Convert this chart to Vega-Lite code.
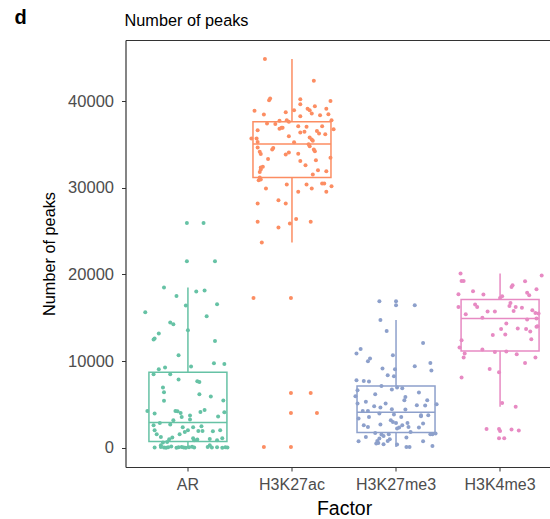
{
  "$schema": "https://vega.github.io/schema/vega-lite/v6.json",
  "autosize": {"type": "none"},
  "padding": {"left": 125.5, "top": 40, "right": 0, "bottom": 52},
  "width": 424.5,
  "height": 427,
  "title": {"text": "d", "anchor": "start", "frame": "group", "dx": -111, "dy": 36, "baseline": "alphabetic", "fontSize": 20, "fontWeight": "bold", "color": "#000000"},
  "config": {
    "font": "Liberation Sans",
    "view": {"stroke": null},
    "axis": {"grid": false}
  },
  "datasets": {
    "summary": [
      {"Factor": "AR", "lower": 40, "q1": 750, "median": 2940, "q3": 8730, "upper": 18500},
      {"Factor": "H3K27ac", "lower": 23690, "q1": 31190, "median": 35060, "q3": 37600, "upper": 44850},
      {"Factor": "H3K27me3", "lower": 120, "q1": 1780, "median": 4120, "q3": 7150, "upper": 14750},
      {"Factor": "H3K4me3", "lower": 4750, "q1": 11190, "median": 14930, "q3": 17120, "upper": 20120}
    ],
    "peaks": [
      {"Factor": "AR", "jitter": -0.01, "peaks": 25950},
      {"Factor": "AR", "jitter": 0.15, "peaks": 25950},
      {"Factor": "AR", "jitter": -0.01, "peaks": 21530},
      {"Factor": "AR", "jitter": 0.26, "peaks": 21530},
      {"Factor": "AR", "jitter": -0.23, "peaks": 18500},
      {"Factor": "AR", "jitter": 0.08, "peaks": 18040},
      {"Factor": "AR", "jitter": 0.16, "peaks": 18150},
      {"Factor": "AR", "jitter": -0.11, "peaks": 17530},
      {"Factor": "AR", "jitter": -0.02, "peaks": 16420},
      {"Factor": "AR", "jitter": 0.28, "peaks": 16570},
      {"Factor": "AR", "jitter": -0.41, "peaks": 15650},
      {"Factor": "AR", "jitter": 0.18, "peaks": 15190},
      {"Factor": "AR", "jitter": -0.17, "peaks": 14460},
      {"Factor": "AR", "jitter": -0.14, "peaks": 14270},
      {"Factor": "AR", "jitter": 0.0, "peaks": 13580},
      {"Factor": "AR", "jitter": -0.28, "peaks": 13190},
      {"Factor": "AR", "jitter": -0.32, "peaks": 12620},
      {"Factor": "AR", "jitter": -0.33, "peaks": 12500},
      {"Factor": "AR", "jitter": 0.26, "peaks": 12340},
      {"Factor": "AR", "jitter": -0.09, "peaks": 10690},
      {"Factor": "AR", "jitter": 0.25, "peaks": 9770},
      {"Factor": "AR", "jitter": 0.35, "peaks": 9690},
      {"Factor": "AR", "jitter": 0.03, "peaks": 9390},
      {"Factor": "AR", "jitter": -0.22, "peaks": 9270},
      {"Factor": "AR", "jitter": -0.28, "peaks": 9080},
      {"Factor": "AR", "jitter": -0.33, "peaks": 8500},
      {"Factor": "AR", "jitter": -0.17, "peaks": 8500},
      {"Factor": "AR", "jitter": -0.09, "peaks": 7890},
      {"Factor": "AR", "jitter": 0.09, "peaks": 7690},
      {"Factor": "AR", "jitter": 0.11, "peaks": 7610},
      {"Factor": "AR", "jitter": -0.24, "peaks": 6970},
      {"Factor": "AR", "jitter": -0.23, "peaks": 6420},
      {"Factor": "AR", "jitter": 0.11, "peaks": 6190},
      {"Factor": "AR", "jitter": 0.22, "peaks": 5940},
      {"Factor": "AR", "jitter": -0.23, "peaks": 5440},
      {"Factor": "AR", "jitter": 0.34, "peaks": 5470},
      {"Factor": "AR", "jitter": -0.39, "peaks": 4270},
      {"Factor": "AR", "jitter": -0.32, "peaks": 3970},
      {"Factor": "AR", "jitter": -0.12, "peaks": 4270},
      {"Factor": "AR", "jitter": -0.1, "peaks": 4220},
      {"Factor": "AR", "jitter": -0.07, "peaks": 4040},
      {"Factor": "AR", "jitter": -0.06, "peaks": 3580},
      {"Factor": "AR", "jitter": 0.02, "peaks": 3740},
      {"Factor": "AR", "jitter": 0.02, "peaks": 3280},
      {"Factor": "AR", "jitter": 0.12, "peaks": 4150},
      {"Factor": "AR", "jitter": 0.16, "peaks": 4380},
      {"Factor": "AR", "jitter": 0.35, "peaks": 4120},
      {"Factor": "AR", "jitter": 0.29, "peaks": 3620},
      {"Factor": "AR", "jitter": -0.14, "peaks": 3190},
      {"Factor": "AR", "jitter": -0.33, "peaks": 2620},
      {"Factor": "AR", "jitter": -0.27, "peaks": 2880},
      {"Factor": "AR", "jitter": -0.17, "peaks": 2700},
      {"Factor": "AR", "jitter": -0.05, "peaks": 2390},
      {"Factor": "AR", "jitter": 0.05, "peaks": 2390},
      {"Factor": "AR", "jitter": 0.13, "peaks": 2500},
      {"Factor": "AR", "jitter": -0.32, "peaks": 2040},
      {"Factor": "AR", "jitter": -0.03, "peaks": 1850},
      {"Factor": "AR", "jitter": 0.0, "peaks": 2040},
      {"Factor": "AR", "jitter": 0.1, "peaks": 1960},
      {"Factor": "AR", "jitter": 0.14, "peaks": 1960},
      {"Factor": "AR", "jitter": 0.24, "peaks": 1930},
      {"Factor": "AR", "jitter": 0.31, "peaks": 2040},
      {"Factor": "AR", "jitter": -0.3, "peaks": 1580},
      {"Factor": "AR", "jitter": -0.26, "peaks": 1270},
      {"Factor": "AR", "jitter": -0.18, "peaks": 1000},
      {"Factor": "AR", "jitter": -0.15, "peaks": 1200},
      {"Factor": "AR", "jitter": -0.08, "peaks": 1580},
      {"Factor": "AR", "jitter": 0.05, "peaks": 1120},
      {"Factor": "AR", "jitter": 0.06, "peaks": 890},
      {"Factor": "AR", "jitter": 0.09, "peaks": 970},
      {"Factor": "AR", "jitter": 0.21, "peaks": 1040},
      {"Factor": "AR", "jitter": 0.28, "peaks": 890},
      {"Factor": "AR", "jitter": 0.33, "peaks": 1120},
      {"Factor": "AR", "jitter": -0.24, "peaks": 620},
      {"Factor": "AR", "jitter": -0.2, "peaks": 690},
      {"Factor": "AR", "jitter": -0.26, "peaks": 310},
      {"Factor": "AR", "jitter": 0.21, "peaks": 310},
      {"Factor": "AR", "jitter": -0.32, "peaks": 40},
      {"Factor": "AR", "jitter": -0.26, "peaks": 120},
      {"Factor": "AR", "jitter": -0.23, "peaks": 60},
      {"Factor": "AR", "jitter": -0.21, "peaks": 30},
      {"Factor": "AR", "jitter": -0.19, "peaks": 90},
      {"Factor": "AR", "jitter": -0.16, "peaks": 150},
      {"Factor": "AR", "jitter": -0.11, "peaks": 20},
      {"Factor": "AR", "jitter": -0.09, "peaks": 70},
      {"Factor": "AR", "jitter": -0.06, "peaks": 110},
      {"Factor": "AR", "jitter": -0.04, "peaks": 50},
      {"Factor": "AR", "jitter": -0.02, "peaks": 30},
      {"Factor": "AR", "jitter": 0.01, "peaks": 80},
      {"Factor": "AR", "jitter": 0.04, "peaks": 140},
      {"Factor": "AR", "jitter": 0.06, "peaks": 60},
      {"Factor": "AR", "jitter": 0.19, "peaks": 100},
      {"Factor": "AR", "jitter": 0.23, "peaks": 40},
      {"Factor": "AR", "jitter": 0.28, "peaks": 70},
      {"Factor": "AR", "jitter": 0.33, "peaks": 20},
      {"Factor": "AR", "jitter": 0.36, "peaks": 90},
      {"Factor": "AR", "jitter": 0.38, "peaks": 50},
      {"Factor": "H3K27ac", "jitter": -0.26, "peaks": 44850},
      {"Factor": "H3K27ac", "jitter": 0.21, "peaks": 42330},
      {"Factor": "H3K27ac", "jitter": -0.22, "peaks": 40100},
      {"Factor": "H3K27ac", "jitter": -0.21, "peaks": 40300},
      {"Factor": "H3K27ac", "jitter": 0.08, "peaks": 40220},
      {"Factor": "H3K27ac", "jitter": 0.08, "peaks": 39640},
      {"Factor": "H3K27ac", "jitter": -0.36, "peaks": 38870},
      {"Factor": "H3K27ac", "jitter": -0.27, "peaks": 38450},
      {"Factor": "H3K27ac", "jitter": -0.06, "peaks": 38720},
      {"Factor": "H3K27ac", "jitter": 0.02, "peaks": 38950},
      {"Factor": "H3K27ac", "jitter": 0.15, "peaks": 39100},
      {"Factor": "H3K27ac", "jitter": 0.17, "peaks": 38950},
      {"Factor": "H3K27ac", "jitter": 0.22, "peaks": 39410},
      {"Factor": "H3K27ac", "jitter": 0.37, "peaks": 40020},
      {"Factor": "H3K27ac", "jitter": 0.33, "peaks": 39100},
      {"Factor": "H3K27ac", "jitter": 0.27, "peaks": 38370},
      {"Factor": "H3K27ac", "jitter": 0.35, "peaks": 38490},
      {"Factor": "H3K27ac", "jitter": 0.08, "peaks": 38260},
      {"Factor": "H3K27ac", "jitter": 0.19, "peaks": 38570},
      {"Factor": "H3K27ac", "jitter": 0.38, "peaks": 37800},
      {"Factor": "H3K27ac", "jitter": -0.12, "peaks": 37720},
      {"Factor": "H3K27ac", "jitter": -0.05, "peaks": 37800},
      {"Factor": "H3K27ac", "jitter": -0.03, "peaks": 37600},
      {"Factor": "H3K27ac", "jitter": -0.24, "peaks": 37420},
      {"Factor": "H3K27ac", "jitter": -0.16, "peaks": 37340},
      {"Factor": "H3K27ac", "jitter": -0.33, "peaks": 36640},
      {"Factor": "H3K27ac", "jitter": -0.12, "peaks": 36800},
      {"Factor": "H3K27ac", "jitter": -0.1, "peaks": 36910},
      {"Factor": "H3K27ac", "jitter": -0.09, "peaks": 36910},
      {"Factor": "H3K27ac", "jitter": 0.06, "peaks": 37100},
      {"Factor": "H3K27ac", "jitter": 0.14, "peaks": 37030},
      {"Factor": "H3K27ac", "jitter": 0.24, "peaks": 36560},
      {"Factor": "H3K27ac", "jitter": 0.26, "peaks": 36260},
      {"Factor": "H3K27ac", "jitter": 0.29, "peaks": 37100},
      {"Factor": "H3K27ac", "jitter": 0.32, "peaks": 36180},
      {"Factor": "H3K27ac", "jitter": 0.4, "peaks": 36760},
      {"Factor": "H3K27ac", "jitter": 0.08, "peaks": 36380},
      {"Factor": "H3K27ac", "jitter": 0.12, "peaks": 36450},
      {"Factor": "H3K27ac", "jitter": -0.39, "peaks": 35690},
      {"Factor": "H3K27ac", "jitter": -0.34, "peaks": 35690},
      {"Factor": "H3K27ac", "jitter": -0.33, "peaks": 35290},
      {"Factor": "H3K27ac", "jitter": -0.03, "peaks": 35950},
      {"Factor": "H3K27ac", "jitter": 0.17, "peaks": 35800},
      {"Factor": "H3K27ac", "jitter": 0.19, "peaks": 35570},
      {"Factor": "H3K27ac", "jitter": 0.2, "peaks": 35410},
      {"Factor": "H3K27ac", "jitter": 0.02, "peaks": 35260},
      {"Factor": "H3K27ac", "jitter": 0.16, "peaks": 35030},
      {"Factor": "H3K27ac", "jitter": 0.17, "peaks": 34800},
      {"Factor": "H3K27ac", "jitter": -0.33, "peaks": 34650},
      {"Factor": "H3K27ac", "jitter": -0.18, "peaks": 34600},
      {"Factor": "H3K27ac", "jitter": -0.19, "peaks": 34420},
      {"Factor": "H3K27ac", "jitter": 0.21, "peaks": 34420},
      {"Factor": "H3K27ac", "jitter": 0.22, "peaks": 34220},
      {"Factor": "H3K27ac", "jitter": -0.31, "peaks": 34140},
      {"Factor": "H3K27ac", "jitter": -0.3, "peaks": 33880},
      {"Factor": "H3K27ac", "jitter": -0.06, "peaks": 33840},
      {"Factor": "H3K27ac", "jitter": -0.03, "peaks": 34070},
      {"Factor": "H3K27ac", "jitter": 0.06, "peaks": 33910},
      {"Factor": "H3K27ac", "jitter": -0.23, "peaks": 33330},
      {"Factor": "H3K27ac", "jitter": 0.37, "peaks": 33450},
      {"Factor": "H3K27ac", "jitter": 0.08, "peaks": 33100},
      {"Factor": "H3K27ac", "jitter": 0.23, "peaks": 33180},
      {"Factor": "H3K27ac", "jitter": 0.13, "peaks": 32610},
      {"Factor": "H3K27ac", "jitter": -0.3, "peaks": 32340},
      {"Factor": "H3K27ac", "jitter": -0.28, "peaks": 32410},
      {"Factor": "H3K27ac", "jitter": -0.31, "peaks": 31830},
      {"Factor": "H3K27ac", "jitter": -0.3, "peaks": 32110},
      {"Factor": "H3K27ac", "jitter": 0.25, "peaks": 32030},
      {"Factor": "H3K27ac", "jitter": 0.33, "peaks": 31910},
      {"Factor": "H3K27ac", "jitter": 0.2, "peaks": 31530},
      {"Factor": "H3K27ac", "jitter": -0.31, "peaks": 31190},
      {"Factor": "H3K27ac", "jitter": -0.32, "peaks": 30880},
      {"Factor": "H3K27ac", "jitter": -0.3, "peaks": 30960},
      {"Factor": "H3K27ac", "jitter": -0.25, "peaks": 29920},
      {"Factor": "H3K27ac", "jitter": -0.05, "peaks": 30380},
      {"Factor": "H3K27ac", "jitter": 0.14, "peaks": 30380},
      {"Factor": "H3K27ac", "jitter": 0.19, "peaks": 29920},
      {"Factor": "H3K27ac", "jitter": 0.29, "peaks": 30500},
      {"Factor": "H3K27ac", "jitter": 0.31, "peaks": 30500},
      {"Factor": "H3K27ac", "jitter": 0.38, "peaks": 30180},
      {"Factor": "H3K27ac", "jitter": 0.06, "peaks": 29530},
      {"Factor": "H3K27ac", "jitter": 0.33, "peaks": 29530},
      {"Factor": "H3K27ac", "jitter": -0.13, "peaks": 28570},
      {"Factor": "H3K27ac", "jitter": -0.06, "peaks": 28190},
      {"Factor": "H3K27ac", "jitter": -0.33, "peaks": 28190},
      {"Factor": "H3K27ac", "jitter": 0.04, "peaks": 26410},
      {"Factor": "H3K27ac", "jitter": -0.33, "peaks": 26070},
      {"Factor": "H3K27ac", "jitter": -0.13, "peaks": 25420},
      {"Factor": "H3K27ac", "jitter": -0.02, "peaks": 25880},
      {"Factor": "H3K27ac", "jitter": 0.18, "peaks": 26070},
      {"Factor": "H3K27ac", "jitter": -0.29, "peaks": 23690},
      {"Factor": "H3K27ac", "jitter": -0.37, "peaks": 17300},
      {"Factor": "H3K27ac", "jitter": -0.01, "peaks": 17300},
      {"Factor": "H3K27ac", "jitter": -0.01, "peaks": 6340},
      {"Factor": "H3K27ac", "jitter": 0.18, "peaks": 6340},
      {"Factor": "H3K27ac", "jitter": -0.01, "peaks": 4040},
      {"Factor": "H3K27ac", "jitter": 0.24, "peaks": 4040},
      {"Factor": "H3K27ac", "jitter": -0.27, "peaks": 120},
      {"Factor": "H3K27ac", "jitter": -0.01, "peaks": 120},
      {"Factor": "H3K27me3", "jitter": -0.16, "peaks": 16920},
      {"Factor": "H3K27me3", "jitter": 0.0, "peaks": 16920},
      {"Factor": "H3K27me3", "jitter": 0.0, "peaks": 16460},
      {"Factor": "H3K27me3", "jitter": 0.18, "peaks": 16460},
      {"Factor": "H3K27me3", "jitter": -0.15, "peaks": 14750},
      {"Factor": "H3K27me3", "jitter": -0.09, "peaks": 13490},
      {"Factor": "H3K27me3", "jitter": 0.26, "peaks": 12110},
      {"Factor": "H3K27me3", "jitter": -0.34, "peaks": 11420},
      {"Factor": "H3K27me3", "jitter": -0.38, "peaks": 10890},
      {"Factor": "H3K27me3", "jitter": -0.03, "peaks": 10690},
      {"Factor": "H3K27me3", "jitter": -0.25, "peaks": 10310},
      {"Factor": "H3K27me3", "jitter": -0.27, "peaks": 10000},
      {"Factor": "H3K27me3", "jitter": 0.33, "peaks": 9800},
      {"Factor": "H3K27me3", "jitter": 0.18, "peaks": 9420},
      {"Factor": "H3K27me3", "jitter": -0.13, "peaks": 9160},
      {"Factor": "H3K27me3", "jitter": -0.01, "peaks": 9080},
      {"Factor": "H3K27me3", "jitter": 0.34, "peaks": 8930},
      {"Factor": "H3K27me3", "jitter": -0.08, "peaks": 8390},
      {"Factor": "H3K27me3", "jitter": -0.02, "peaks": 8270},
      {"Factor": "H3K27me3", "jitter": -0.38, "peaks": 7810},
      {"Factor": "H3K27me3", "jitter": -0.31, "peaks": 7730},
      {"Factor": "H3K27me3", "jitter": -0.26, "peaks": 7660},
      {"Factor": "H3K27me3", "jitter": -0.14, "peaks": 7150},
      {"Factor": "H3K27me3", "jitter": -0.04, "peaks": 6740},
      {"Factor": "H3K27me3", "jitter": 0.01, "peaks": 6970},
      {"Factor": "H3K27me3", "jitter": 0.06, "peaks": 6890},
      {"Factor": "H3K27me3", "jitter": -0.37, "peaks": 6660},
      {"Factor": "H3K27me3", "jitter": -0.2, "peaks": 6190},
      {"Factor": "H3K27me3", "jitter": 0.22, "peaks": 6390},
      {"Factor": "H3K27me3", "jitter": -0.39, "peaks": 5960},
      {"Factor": "H3K27me3", "jitter": 0.09, "peaks": 5880},
      {"Factor": "H3K27me3", "jitter": 0.08, "peaks": 5500},
      {"Factor": "H3K27me3", "jitter": 0.3, "peaks": 5500},
      {"Factor": "H3K27me3", "jitter": -0.29, "peaks": 5310},
      {"Factor": "H3K27me3", "jitter": -0.1, "peaks": 5120},
      {"Factor": "H3K27me3", "jitter": 0.2, "peaks": 4930},
      {"Factor": "H3K27me3", "jitter": -0.37, "peaks": 5120},
      {"Factor": "H3K27me3", "jitter": -0.21, "peaks": 4810},
      {"Factor": "H3K27me3", "jitter": -0.15, "peaks": 4660},
      {"Factor": "H3K27me3", "jitter": -0.04, "peaks": 4460},
      {"Factor": "H3K27me3", "jitter": 0.09, "peaks": 4430},
      {"Factor": "H3K27me3", "jitter": 0.28, "peaks": 4890},
      {"Factor": "H3K27me3", "jitter": 0.39, "peaks": 5040},
      {"Factor": "H3K27me3", "jitter": -0.32, "peaks": 4270},
      {"Factor": "H3K27me3", "jitter": -0.27, "peaks": 4270},
      {"Factor": "H3K27me3", "jitter": -0.16, "peaks": 3970},
      {"Factor": "H3K27me3", "jitter": -0.02, "peaks": 3850},
      {"Factor": "H3K27me3", "jitter": 0.05, "peaks": 3580},
      {"Factor": "H3K27me3", "jitter": 0.24, "peaks": 3770},
      {"Factor": "H3K27me3", "jitter": 0.24, "peaks": 3660},
      {"Factor": "H3K27me3", "jitter": 0.31, "peaks": 3770},
      {"Factor": "H3K27me3", "jitter": -0.36, "peaks": 3390},
      {"Factor": "H3K27me3", "jitter": -0.26, "peaks": 3580},
      {"Factor": "H3K27me3", "jitter": -0.05, "peaks": 3190},
      {"Factor": "H3K27me3", "jitter": -0.03, "peaks": 3000},
      {"Factor": "H3K27me3", "jitter": 0.0, "peaks": 2880},
      {"Factor": "H3K27me3", "jitter": 0.06, "peaks": 2620},
      {"Factor": "H3K27me3", "jitter": 0.11, "peaks": 2880},
      {"Factor": "H3K27me3", "jitter": 0.26, "peaks": 2810},
      {"Factor": "H3K27me3", "jitter": -0.15, "peaks": 2700},
      {"Factor": "H3K27me3", "jitter": -0.31, "peaks": 2620},
      {"Factor": "H3K27me3", "jitter": -0.27, "peaks": 2420},
      {"Factor": "H3K27me3", "jitter": 0.12, "peaks": 2420},
      {"Factor": "H3K27me3", "jitter": 0.22, "peaks": 2350},
      {"Factor": "H3K27me3", "jitter": 0.01, "peaks": 2240},
      {"Factor": "H3K27me3", "jitter": 0.03, "peaks": 2350},
      {"Factor": "H3K27me3", "jitter": -0.2, "peaks": 1730},
      {"Factor": "H3K27me3", "jitter": 0.14, "peaks": 1850},
      {"Factor": "H3K27me3", "jitter": 0.33, "peaks": 1580},
      {"Factor": "H3K27me3", "jitter": 0.35, "peaks": 1580},
      {"Factor": "H3K27me3", "jitter": 0.38, "peaks": 1660},
      {"Factor": "H3K27me3", "jitter": -0.29, "peaks": 1270},
      {"Factor": "H3K27me3", "jitter": -0.14, "peaks": 1550},
      {"Factor": "H3K27me3", "jitter": -0.12, "peaks": 1380},
      {"Factor": "H3K27me3", "jitter": -0.07, "peaks": 1580},
      {"Factor": "H3K27me3", "jitter": 0.1, "peaks": 1200},
      {"Factor": "H3K27me3", "jitter": -0.16, "peaks": 1080},
      {"Factor": "H3K27me3", "jitter": -0.36, "peaks": 770},
      {"Factor": "H3K27me3", "jitter": -0.18, "peaks": 810},
      {"Factor": "H3K27me3", "jitter": -0.17, "peaks": 580},
      {"Factor": "H3K27me3", "jitter": -0.19, "peaks": 510},
      {"Factor": "H3K27me3", "jitter": -0.12, "peaks": 430},
      {"Factor": "H3K27me3", "jitter": -0.08, "peaks": 810},
      {"Factor": "H3K27me3", "jitter": -0.06, "peaks": 1000},
      {"Factor": "H3K27me3", "jitter": 0.01, "peaks": 390},
      {"Factor": "H3K27me3", "jitter": 0.26, "peaks": 770},
      {"Factor": "H3K27me3", "jitter": 0.1, "peaks": 120},
      {"Factor": "H3K27me3", "jitter": 0.13, "peaks": 120},
      {"Factor": "H3K27me3", "jitter": 0.35, "peaks": 230},
      {"Factor": "H3K4me3", "jitter": -0.38, "peaks": 20120},
      {"Factor": "H3K4me3", "jitter": 0.4, "peaks": 19880},
      {"Factor": "H3K4me3", "jitter": -0.37, "peaks": 19260},
      {"Factor": "H3K4me3", "jitter": -0.35, "peaks": 19260},
      {"Factor": "H3K4me3", "jitter": 0.12, "peaks": 18770},
      {"Factor": "H3K4me3", "jitter": 0.11, "peaks": 18570},
      {"Factor": "H3K4me3", "jitter": 0.24, "peaks": 19230},
      {"Factor": "H3K4me3", "jitter": 0.35, "peaks": 18300},
      {"Factor": "H3K4me3", "jitter": -0.26, "peaks": 18070},
      {"Factor": "H3K4me3", "jitter": -0.4, "peaks": 17730},
      {"Factor": "H3K4me3", "jitter": -0.16, "peaks": 17690},
      {"Factor": "H3K4me3", "jitter": 0.26, "peaks": 17880},
      {"Factor": "H3K4me3", "jitter": 0.28, "peaks": 17610},
      {"Factor": "H3K4me3", "jitter": 0.02, "peaks": 17500},
      {"Factor": "H3K4me3", "jitter": 0.0, "peaks": 17300},
      {"Factor": "H3K4me3", "jitter": -0.4, "peaks": 16260},
      {"Factor": "H3K4me3", "jitter": -0.24, "peaks": 16540},
      {"Factor": "H3K4me3", "jitter": -0.22, "peaks": 16260},
      {"Factor": "H3K4me3", "jitter": 0.1, "peaks": 16720},
      {"Factor": "H3K4me3", "jitter": 0.09, "peaks": 16380},
      {"Factor": "H3K4me3", "jitter": 0.15, "peaks": 16260},
      {"Factor": "H3K4me3", "jitter": 0.21, "peaks": 16150},
      {"Factor": "H3K4me3", "jitter": 0.13, "peaks": 15800},
      {"Factor": "H3K4me3", "jitter": -0.12, "peaks": 15730},
      {"Factor": "H3K4me3", "jitter": -0.05, "peaks": 15730},
      {"Factor": "H3K4me3", "jitter": 0.31, "peaks": 15880},
      {"Factor": "H3K4me3", "jitter": 0.34, "peaks": 15570},
      {"Factor": "H3K4me3", "jitter": 0.37, "peaks": 15500},
      {"Factor": "H3K4me3", "jitter": -0.33, "peaks": 15420},
      {"Factor": "H3K4me3", "jitter": -0.17, "peaks": 15000},
      {"Factor": "H3K4me3", "jitter": 0.26, "peaks": 14810},
      {"Factor": "H3K4me3", "jitter": 0.35, "peaks": 14930},
      {"Factor": "H3K4me3", "jitter": 0.06, "peaks": 14350},
      {"Factor": "H3K4me3", "jitter": 0.01, "peaks": 13720},
      {"Factor": "H3K4me3", "jitter": 0.17, "peaks": 13770},
      {"Factor": "H3K4me3", "jitter": 0.25, "peaks": 13720},
      {"Factor": "H3K4me3", "jitter": 0.29, "peaks": 13430},
      {"Factor": "H3K4me3", "jitter": 0.35, "peaks": 13960},
      {"Factor": "H3K4me3", "jitter": 0.36, "peaks": 14040},
      {"Factor": "H3K4me3", "jitter": 0.05, "peaks": 13080},
      {"Factor": "H3K4me3", "jitter": -0.07, "peaks": 13030},
      {"Factor": "H3K4me3", "jitter": -0.37, "peaks": 12420},
      {"Factor": "H3K4me3", "jitter": 0.3, "peaks": 12540},
      {"Factor": "H3K4me3", "jitter": -0.39, "peaks": 11580},
      {"Factor": "H3K4me3", "jitter": -0.17, "peaks": 11350},
      {"Factor": "H3K4me3", "jitter": -0.05, "peaks": 11070},
      {"Factor": "H3K4me3", "jitter": 0.06, "peaks": 11120},
      {"Factor": "H3K4me3", "jitter": 0.16, "peaks": 10810},
      {"Factor": "H3K4me3", "jitter": -0.34, "peaks": 10890},
      {"Factor": "H3K4me3", "jitter": -0.35, "peaks": 10430},
      {"Factor": "H3K4me3", "jitter": 0.34, "peaks": 10430},
      {"Factor": "H3K4me3", "jitter": 0.24, "peaks": 9800},
      {"Factor": "H3K4me3", "jitter": -0.1, "peaks": 9110},
      {"Factor": "H3K4me3", "jitter": -0.01, "peaks": 8730},
      {"Factor": "H3K4me3", "jitter": -0.37, "peaks": 8120},
      {"Factor": "H3K4me3", "jitter": 0.02, "peaks": 5190},
      {"Factor": "H3K4me3", "jitter": 0.15, "peaks": 4750},
      {"Factor": "H3K4me3", "jitter": -0.13, "peaks": 2190},
      {"Factor": "H3K4me3", "jitter": -0.01, "peaks": 2190},
      {"Factor": "H3K4me3", "jitter": 0.0, "peaks": 1960},
      {"Factor": "H3K4me3", "jitter": 0.11, "peaks": 2120},
      {"Factor": "H3K4me3", "jitter": 0.18, "peaks": 2010},
      {"Factor": "H3K4me3", "jitter": -0.01, "peaks": 1120},
      {"Factor": "H3K4me3", "jitter": 0.04, "peaks": 1120}
    ]
  },
  "layer": [
    {
      "data": {"name": "summary"},
      "mark": {"type": "rule", "strokeWidth": 1.5},
      "encoding": {
        "x": {
          "field": "Factor", "type": "nominal",
          "scale": {"range": [0, 437], "paddingInner": 0, "paddingOuter": 0.1},
          "axis": {
            "orient": "bottom", "title": "Factor", "labelAngle": 0,
            "labelFontSize": 16, "labelColor": "#4D4D4D", "labelPadding": 5,
            "tickSize": 4, "tickColor": "#333333", "domainColor": "#333333", "domainWidth": 1.2,
            "titleFontSize": 19.5, "titleFontWeight": "normal", "titleColor": "#000000", "titlePadding": 7
          }
        },
        "y": {
          "field": "lower", "type": "quantitative",
          "scale": {"domain": [-2200, 47040], "nice": false, "zero": false},
          "axis": {
            "title": "Number of peaks", "values": [0, 10000, 20000, 30000, 40000], "format": "d",
            "labelFontSize": 16.5, "labelColor": "#4D4D4D", "labelPadding": 8,
            "tickSize": 4, "tickColor": "#333333", "domainColor": "#333333", "domainWidth": 1.2,
            "titleFontSize": 16.3, "titleFontWeight": "normal", "titleColor": "#000000", "titlePadding": 10
          }
        },
        "y2": {"field": "upper"},
        "color": {
          "field": "Factor", "type": "nominal", "legend": null,
          "scale": {"domain": ["AR", "H3K27ac", "H3K27me3", "H3K4me3"], "range": ["#66C2A5", "#FC8D62", "#8DA0CB", "#E78AC3"]}
        }
      }
    },
    {
      "data": {"name": "summary"},
      "mark": {"type": "bar", "fill": "#FFFFFF", "strokeWidth": 1.5, "width": 78},
      "encoding": {
        "x": {"field": "Factor", "type": "nominal", "axis": null},
        "y": {"field": "q1", "type": "quantitative"},
        "y2": {"field": "q3"},
        "stroke": {
          "field": "Factor", "type": "nominal", "legend": null,
          "scale": {"domain": ["AR", "H3K27ac", "H3K27me3", "H3K4me3"], "range": ["#66C2A5", "#FC8D62", "#8DA0CB", "#E78AC3"]}
        }
      }
    },
    {
      "data": {"name": "summary"},
      "mark": {"type": "tick", "size": 78, "thickness": 1.5, "opacity": 1},
      "encoding": {
        "x": {"field": "Factor", "type": "nominal", "axis": null},
        "y": {"field": "median", "type": "quantitative"},
        "color": {"field": "Factor", "type": "nominal", "legend": null}
      }
    },
    {
      "data": {"name": "peaks"},
      "mark": {"type": "circle", "size": 16, "opacity": 1},
      "encoding": {
        "x": {
          "field": "Factor", "type": "nominal",
          "axis": {
            "orient": "top", "labels": false, "ticks": false,
            "domain": true, "domainColor": "#333333", "domainWidth": 1,
            "title": "Number of peaks", "titleX": -1.5, "titleY": -15,
            "titleAlign": "left", "titleAnchor": "start", "titleBaseline": "alphabetic",
            "titleFontSize": 16.3, "titleFontWeight": "normal", "titleColor": "#000000"
          }
        },
        "xOffset": {"field": "jitter", "type": "quantitative", "scale": {"domain": [-0.5, 0.5]}},
        "y": {"field": "peaks", "type": "quantitative"},
        "color": {"field": "Factor", "type": "nominal", "legend": null}
      }
    }
  ]
}
